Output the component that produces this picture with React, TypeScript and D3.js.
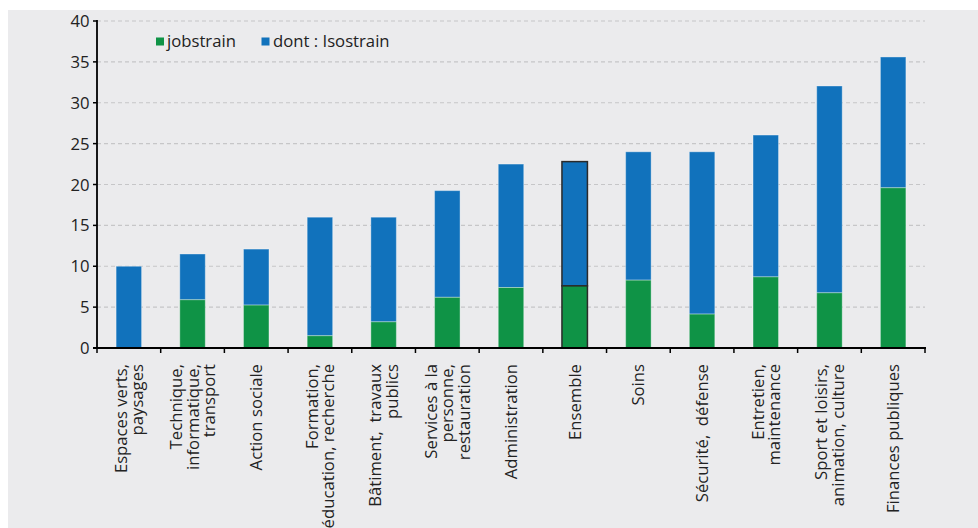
import React from "react";
import * as d3 from "d3";

const categories = [
  "Espaces verts,\npaysages",
  "Technique,\ninformatique,\ntransport",
  "Action sociale",
  "Formation,\néducation, recherche",
  "Bâtiment,  travaux\npublics",
  "Services à la\npersonne,\nrestauration",
  "Administration",
  "Ensemble",
  "Soins",
  "Sécurité,  défense",
  "Entretien,\nmaintenance",
  "Sport et loisirs,\nanimation, culture",
  "Finances publiques",
];
const jobstrain = [0, 5.9, 5.25, 1.5, 3.2, 6.2, 7.4, 7.6, 8.3, 4.15, 8.7, 6.75, 19.6];
const totals = [10.0, 11.5, 12.1, 16.0, 16.0, 19.25, 22.5, 22.8, 24.0, 24.0, 26.05, 32.05, 35.6];
const yTicks = [0, 5, 10, 15, 20, 25, 30, 35, 40];
const seriesNames = ["jobstrain", "dont : Isostrain"];
const highlighted = "Ensemble";

const W = 978;
const H = 528;
const FONT = "'Open Sans', 'Noto Sans', sans-serif";
const GREEN = "#0f9346";
const BLUE = "#1172bc";
const FS = 16.7;

export default function App() {
  const x0 = 97, x1 = 925, yTop = 21, yBot = 348;
  const x = d3.scaleBand<string>().domain(categories).range([x0, x1]).paddingInner(0.6).paddingOuter(0.3);
  const xb = d3.scaleBand<string>().domain(categories).range([x0, x1]);
  const y = d3.scaleLinear().domain([0, 40]).range([yBot, yTop]);
  const bw = x.bandwidth();
  const boundaries = categories.map((c) => xb(c)!).concat([x1]);

  return (
    <svg width={W} height={H} style={{ position: "absolute", left: 0, top: 0, display: "block" }} fontFamily={FONT}>
      <rect x={0} y={0} width={W} height={H} fill="#ffffff" />
      <rect x={8} y={10} width={W - 8} height={H - 10} fill="#ebebed" />
      {yTicks.filter((t) => t > 0).map((t) => (
        <line key={"g" + t} x1={x0} x2={x1} y1={y(t)} y2={y(t)} stroke="#c6c6c8" strokeWidth={1.2} strokeDasharray="4,3" />
      ))}
      {categories.map((c, i) => {
        const bx = x(c)!;
        const hi = c === highlighted;
        return (
          <g key={c}>
            <rect x={bx} y={y(totals[i])} width={bw} height={y(jobstrain[i]) - y(totals[i])} fill={BLUE}
              stroke={hi ? "#2a2a2a" : "rgba(255,255,255,0.35)"} strokeWidth={hi ? 1.5 : 1} />
            {jobstrain[i] > 0 && (
              <rect x={bx} y={y(jobstrain[i])} width={bw} height={y(0) - y(jobstrain[i])} fill={GREEN}
                stroke={hi ? "#2a2a2a" : "rgba(255,255,255,0.35)"} strokeWidth={hi ? 1.5 : 1} />
            )}
          </g>
        );
      })}
      {/* y axis */}
      <line x1={x0} x2={x0} y1={yTop - 1} y2={yBot} stroke="#000" strokeWidth={1.8} />
      {yTicks.map((t) => (
        <g key={"y" + t}>
          <line x1={x0 - 4} x2={x0} y1={y(t)} y2={y(t)} stroke="#000" strokeWidth={1.5} />
          <text x={89.5} y={y(t)} dy="0.36em" textAnchor="end" fontSize={FS} fill="#222">{t}</text>
        </g>
      ))}
      {/* x axis */}
      <line x1={x0 - 4} x2={x1 + 1} y1={yBot} y2={yBot} stroke="#000" strokeWidth={1.8} />
      {boundaries.map((b, i) => (
        <line key={"xt" + i} x1={b} x2={b} y1={yBot} y2={yBot + 5} stroke="#000" strokeWidth={1.5} />
      ))}
      {categories.map((c) => {
        const lines = c.split("\n");
        const cx = xb(c)! + xb.bandwidth() / 2;
        return (
          <text key={"l" + c} transform={`translate(${cx},364) rotate(-90)`} textAnchor="end" fontSize={FS} fill="#222">
            {lines.map((ln, i) => (
              <tspan key={i} x={0} y={(i - (lines.length - 1) / 2) * 16.5} dy="0.36em" style={{ whiteSpace: "pre" }}>{ln}</tspan>
            ))}
          </text>
        );
      })}
      {/* legend */}
      <rect x={156} y={37.5} width={8} height={8} fill={GREEN} />
      <text x={167} y={47.3} fontSize={FS} fill="#222">{seriesNames[0]}</text>
      <rect x={261.5} y={37.5} width={8} height={8} fill={BLUE} />
      <text x={273} y={47.3} fontSize={FS} fill="#222">{seriesNames[1]}</text>
    </svg>
  );
}
